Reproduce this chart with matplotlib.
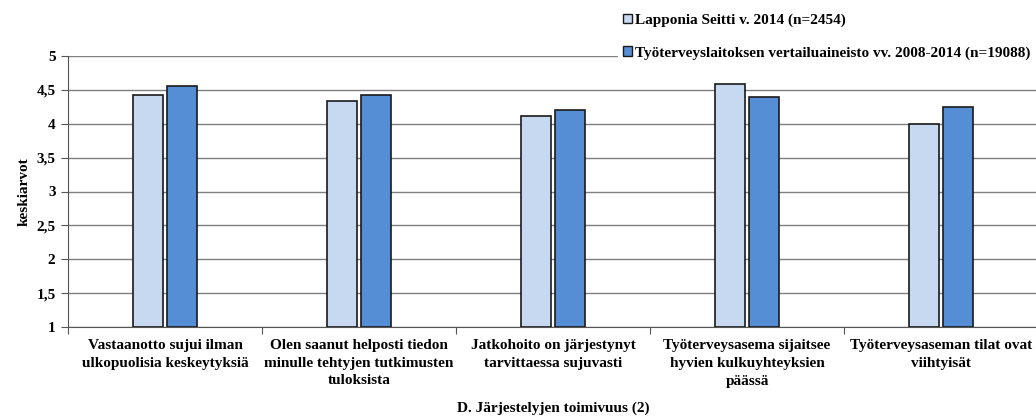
import numpy as np
import matplotlib
matplotlib.use("Agg")
import matplotlib.pyplot as plt
from matplotlib.patches import Patch

plt.rcParams['font.family'] = ['Liberation Serif', 'DejaVu Serif']
plt.rcParams['font.weight'] = 'bold'
plt.rcParams['axes.labelweight'] = 'bold'

categories = [
    "Vastaanotto sujui ilman\nulkopuolisia keskeytyksiä",
    "Olen saanut helposti tiedon\nminulle tehtyjen tutkimusten\ntuloksista",
    "Jatkohoito on järjestynyt\ntarvittaessa sujuvasti",
    "Työterveysasema sijaitsee\nhyvien kulkuyhteyksien\npäässä",
    "Työterveysaseman tilat ovat\nviihtyisät",
]
lapponia = [4.42, 4.34, 4.12, 4.59, 3.99]
vertailu = [4.55, 4.42, 4.21, 4.39, 4.24]
series_names = [
    "Lapponia Seitti v. 2014 (n=2454)",
    "Työterveyslaitoksen vertailuaineisto vv. 2008-2014 (n=19088)",
]
colors = ["#c6d9f1", "#558ed5"]

fig = plt.figure(figsize=(10.36, 4.18), dpi=100)
ax = fig.add_axes([68 / 1036, 1 - 327 / 418, (1038 - 68) / 1036, (327 - 56) / 418])

x = np.arange(len(categories))
w = 0.152
ax.bar(x - 0.087, np.array(lapponia) - 1, w, bottom=1, color=colors[0],
       edgecolor="#1a1a1a", linewidth=1.2, zorder=3)
ax.bar(x + 0.087, np.array(vertailu) - 1, w, bottom=1, color=colors[1],
       edgecolor="#1a1a1a", linewidth=1.2, zorder=3)

ax.set_xlim(-0.5, len(categories) - 0.5)
ax.set_ylim(1, 5)
ax.set_yticks(np.arange(1, 5.01, 0.5))
ax.set_yticklabels(["1", "1,5", "2", "2,5", "3", "3,5", "4", "4,5", "5"], fontsize=11)
ax.yaxis.grid(True, color="#7f7f7f", linewidth=1.0, zorder=0)
ax.set_axisbelow(True)

# category boundaries as tick marks, names centred between them
ax.set_xticks(np.arange(-0.5, len(categories)), minor=False)
ax.set_xticklabels([])
ax.set_xticks(x, minor=True)
ax.set_xticklabels(categories, minor=True, fontsize=11, linespacing=1.45)
ax.tick_params(axis="x", which="minor", length=0, pad=9)
ax.tick_params(axis="x", which="major", length=5, direction="out", color="#555555")
ax.tick_params(axis="y", length=5, direction="out", color="#555555", pad=4)

for side in ["top", "right"]:
    ax.spines[side].set_visible(False)
ax.spines["left"].set_color("#555555")
ax.spines["bottom"].set_color("#555555")

ax.set_ylabel("keskiarvot", fontsize=11, labelpad=4)
ax.set_xlabel("D. Järjestelyjen toimivuus (2)", fontsize=11, labelpad=10)

handles = [Patch(facecolor=c, edgecolor="#1a1a1a", linewidth=1.0) for c in colors]
leg = fig.legend(handles, series_names, loc="upper left",
                 bbox_to_anchor=(618 / 1036, 1 - 9 / 418), frameon=True,
                 fontsize=11, handlelength=0.6, handleheight=0.6,
                 handletextpad=0.2, labelspacing=1.25, borderpad=0.3,
                 borderaxespad=0)
leg.get_frame().set_edgecolor("white")
leg.get_frame().set_facecolor("white")
leg.get_frame().set_alpha(1)
leg.set_zorder(10)

fig.savefig("out.png", dpi=100)
